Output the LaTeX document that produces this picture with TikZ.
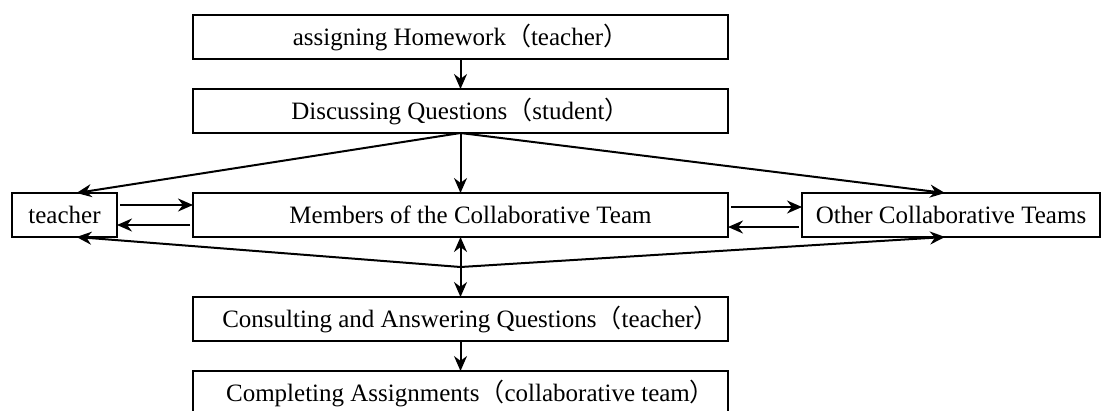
\documentclass[tikz,border=0pt]{standalone}
\usepackage{fontspec}
\setmainfont{Liberation Serif}
\newfontfamily\cjk{Noto Sans CJK SC}
\usepackage{tikz}
\usetikzlibrary{arrows.meta, positioning, calc}
\newcommand{\lp}{{\cjk （}}
\newcommand{\rp}{{\cjk ）}}

\begin{document}
\begin{tikzpicture}[
  x=1pt, y=-1pt,
  box/.style={rectangle, draw=black, line width=2pt, outer sep=0pt, minimum height=44pt, inner sep=0pt, text centered, font=\fontsize{25pt}{29pt}\selectfont},
  mainbox/.style={box, minimum width=535pt},
  line/.style={draw=black, line width=2pt, -{Stealth[length=15pt, width=13pt]}}
]
  \useasboundingbox (0,0) rectangle (1102,410);
  \clip (0,0) rectangle (1102,410);
  \node[mainbox] (assign) at (460.5,37) {assigning Homework\lp teacher\rp};
  \node[mainbox, below=30pt of assign] (discuss) {Discussing Questions\lp student\rp};
  \node[mainbox, below=60pt of discuss] (members) {\hspace*{20pt}Members of the Collaborative Team};
  \node[mainbox, below=60pt of members] (consult) {\hspace*{20pt}Consulting and Answering Questions\lp teacher\rp};
  \node[mainbox, below=30pt of consult] (complete) {\hspace*{20pt}Completing Assignments\lp collaborative team\rp};
  \node[box, minimum width=105pt, left=76pt of members] (teacher) {teacher};
  \node[box, minimum width=298pt, right=74pt of members] (others) {Other Collaborative Teams};
  \coordinate (hub) at ($(members.south)!0.5!(consult.north)$);

  \path[line] (assign) -- (discuss);
  \path[line] (discuss.south) -- ([xshift=12pt]teacher.north);
  \path[line] (discuss.south) -- (members.north);
  \path[line] (discuss.south) -- ([xshift=-6pt]others.north);
  \path[line, shorten <=3pt] ([yshift=10pt]teacher.east) -- ([yshift=10pt]members.west);
  \path[line, shorten <=3pt] ([yshift=-10pt]members.west) -- ([yshift=-10pt]teacher.east);
  \path[line, shorten <=3pt] ([yshift=8pt]members.east) -- ([yshift=8pt]others.west);
  \path[line, shorten <=3pt] ([yshift=-12pt]others.west) -- ([yshift=-12pt]members.east);
  \path[line] (hub) -- ([xshift=12pt]teacher.south);
  \path[line] (hub) -- (members.south);
  \path[line] (hub) -- ([xshift=-6pt]others.south);
  \path[line] (hub) -- (consult.north);
  \path[line] (consult) -- (complete);
\end{tikzpicture}
\end{document}
